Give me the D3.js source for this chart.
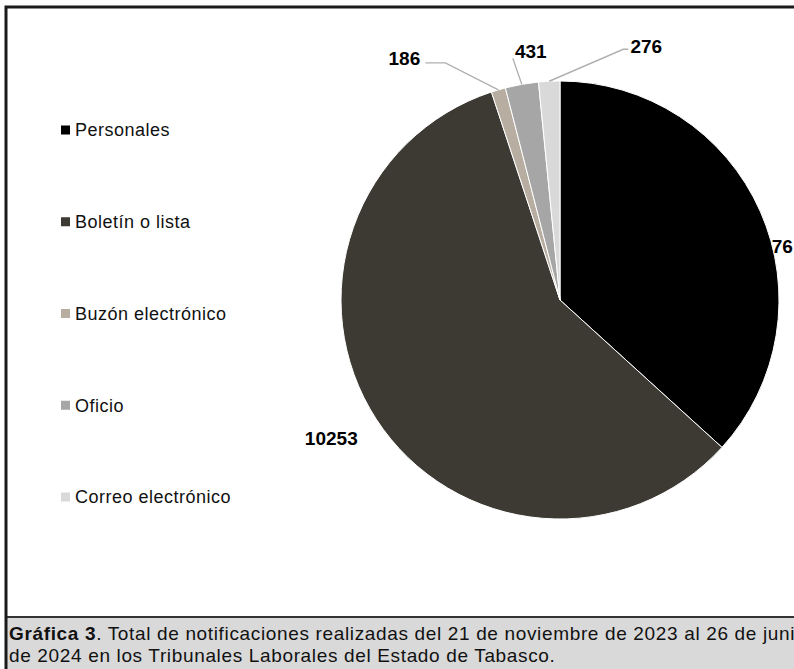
<!DOCTYPE html>
<html>
<head>
<meta charset="utf-8">
<script src="https://cdn.jsdelivr.net/npm/d3@7"></script>
<style>
  html, body { margin: 0; padding: 0; background: #fff; overflow: hidden; }
  svg { display: block; font-family: "Liberation Sans", Arial, sans-serif; }
</style>
</head>
<body>
<svg width="794" height="669"></svg>
<script>
// ---- Datos
const categorias = ['Personales', 'Boletín o lista', 'Buzón electrónico', 'Oficio', 'Correo electrónico'];
const valores = [6476, 10253, 186, 431, 276];
const colores = ['#000000', '#3d3a33', '#b8ada1', '#a6a6a6', '#d9d9d9'];
const tituloNegrita = 'Gráfica 3';
const tituloLinea1 = '. Total de notificaciones realizadas del 21 de noviembre de 2023 al 26 de junio';
const tituloLinea2 = 'de 2024 en los Tribunales Laborales del Estado de Tabasco.';

// ---- Ajustes de etiquetas (desplazamiento desde el borde del sector)
const etiquetas = [
    { dx: 11.5, dy: 35 },
    { dx: -45, dy: 19 },
    { dx: -94, dy: -32, guia: [[41, 5], [21, 5]] },
    { dx: 9, dy: -33, guia: [[-18, 7]] },
    { dx: 97, dy: -35, guia: [[-23, 3], [-18, 3]] }
];

const svg = d3.select('svg');
const cx = 560, cy = 300, radio = 219;

// ---- Marco y pie de gráfica
svg.append('rect')
    .attr('x', 6).attr('y', 617)
    .attr('width', 800).attr('height', 60)
    .attr('fill', '#d9d9d9');

svg.append('line')
    .attr('x1', 6).attr('x2', 800)
    .attr('y1', 617).attr('y2', 617)
    .attr('stroke', '#333').attr('stroke-width', 2);

svg.append('path')
    .attr('d', 'M6,680 V7 H800')
    .attr('fill', 'none')
    .attr('stroke', '#1a1a1a')
    .attr('stroke-width', 3);

const cap = svg.append('text')
    .attr('x', 9).attr('y', 640)
    .style('font-size', '19px')
    .style('letter-spacing', '0.65px')
    .attr('fill', '#111');
cap.append('tspan').style('font-weight', 'bold').text(tituloNegrita);
cap.append('tspan').text(tituloLinea1);

svg.append('text')
    .attr('x', 9).attr('y', 662)
    .style('font-size', '19px')
    .style('letter-spacing', '0.65px')
    .attr('fill', '#111')
    .text(tituloLinea2);

// ---- Pastel
const pie = d3.pie().sort(null).value(d => d);
const arcos = pie(valores);
const arc = d3.arc().innerRadius(0).outerRadius(radio);
const borde = d3.arc().innerRadius(radio).outerRadius(radio);

const g = svg.append('g').attr('transform', `translate(${cx}, ${cy})`);

g.selectAll('path.sector')
    .data(arcos)
    .join('path')
    .attr('class', 'sector')
    .attr('d', arc)
    .attr('fill', (d, i) => colores[i])
    .attr('stroke', '#fff')
    .attr('stroke-width', 1);

// ---- Líneas guía
arcos.forEach((d, i) => {
    const e = etiquetas[i];
    if (!e.guia) return;
    const [bx, by] = borde.centroid(d);
    const lx = bx + e.dx, ly = by + e.dy;
    const pts = [[bx, by]].concat(e.guia.map(p => [lx + p[0], ly + p[1]]));
    g.append('path')
        .attr('d', d3.line()(pts))
        .attr('fill', 'none')
        .attr('stroke', '#b0b0b0')
        .attr('stroke-width', 1.4);
});

// ---- Etiquetas de datos
g.selectAll('text.valor')
    .data(arcos)
    .join('text')
    .attr('class', 'valor')
    .attr('x', (d, i) => borde.centroid(d)[0] + etiquetas[i].dx)
    .attr('y', (d, i) => borde.centroid(d)[1] + etiquetas[i].dy)
    .attr('dy', '0.36em')
    .attr('text-anchor', 'middle')
    .style('font-size', '19px')
    .style('font-weight', 'bold')
    .attr('fill', '#000')
    .text(d => d.data);

// ---- Leyenda
const yLeyenda = d3.scalePoint().domain(categorias).range([130, 497]);

const leyenda = svg.append('g');
leyenda.selectAll('rect')
    .data(categorias)
    .join('rect')
    .attr('x', 61)
    .attr('y', d => yLeyenda(d) - 4.5)
    .attr('width', 9).attr('height', 9)
    .attr('fill', (d, i) => colores[i]);

leyenda.selectAll('text')
    .data(categorias)
    .join('text')
    .attr('x', 75)
    .attr('y', d => yLeyenda(d))
    .attr('dy', '0.36em')
    .style('font-size', '18px')
    .style('letter-spacing', '0.5px')
    .attr('fill', '#111')
    .text(d => d);
</script>
</body>
</html>
